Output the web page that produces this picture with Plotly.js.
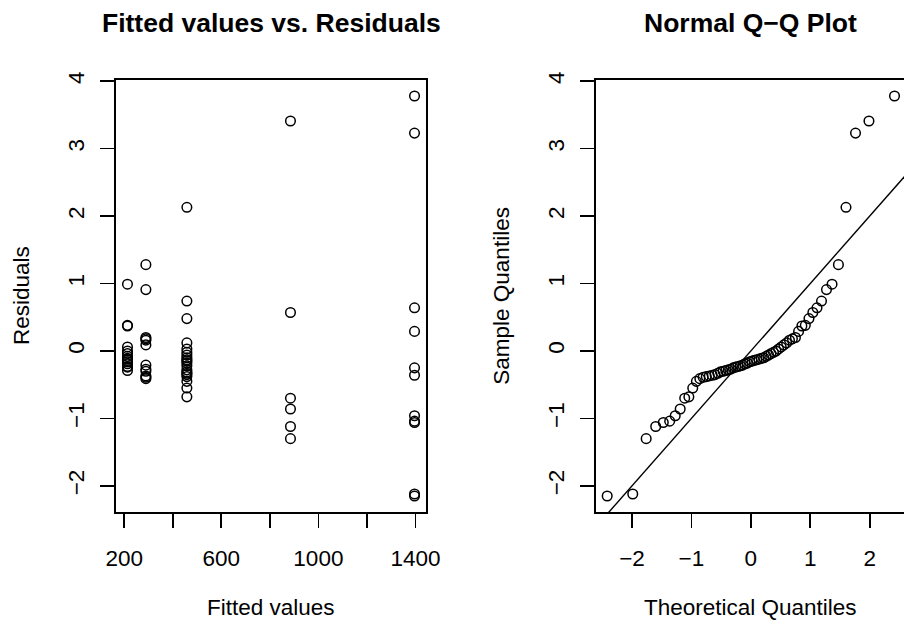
<!DOCTYPE html>
<html>
<head>
<meta charset="utf-8">
<script src="https://cdn.plot.ly/plotly-3.0.1.min.js"></script>
<style>
  html, body { margin: 0; padding: 0; overflow: hidden; background: #ffffff; }
  #plot { width: 912px; height: 620px; }
</style>
</head>
<body>
<div id="plot"></div>
<script>
// ---------------- data ----------------
const groupFitted = [213.6, 289.4, 458.3, 885, 1396];
const resid213  = [0.99, 0.38, 0.37, 0.06, 0.00, -0.04, -0.08, -0.11, -0.12, -0.14, -0.16, -0.19, -0.23, -0.24, -0.29];
const resid289  = [1.28, 0.91, 0.20, 0.18, 0.16, 0.09, -0.21, -0.27, -0.30, -0.37, -0.39, -0.41];
const resid458  = [2.13, 0.74, 0.48, 0.12, 0.03, -0.02, -0.06, -0.10, -0.13, -0.15, -0.18, -0.22, -0.28, -0.31, -0.33, -0.35, -0.38, -0.45, -0.55, -0.68];
const resid885  = [3.41, 0.57, -0.70, -0.86, -1.12, -1.30];
const resid1396 = [3.78, 3.23, 0.64, 0.29, -0.25, -0.36, -0.96, -1.04, -1.06, -2.12, -2.15];
const residGroups = [resid213, resid289, resid458, resid885, resid1396];

// reference line drawn on the Q-Q panel (y = intercept + slope * x)
const refLineIntercept = 0;
const refLineSlope = 1;

// ticks
const fitTickVals = [200, 400, 600, 800, 1000, 1200, 1400];
const fitTickText = ["200", "", "600", "", "1000", "", "1400"];
const qqTickVals = [-2, -1, 0, 1, 2];
const qqTickText = ["\u22122", "\u22121", "0", "1", "2"];
const resTickVals = [-2, -1, 0, 1, 2, 3, 4];
const resTickText = ["\u22122", "\u22121", "0", "1", "2", "3", "4"];

const titleLeft = "Fitted values vs. Residuals";
const titleRight = "Normal Q\u2212Q Plot";
const xTitleLeft = "Fitted values";
const yTitleLeft = "Residuals";
const xTitleRight = "Theoretical Quantiles";
const yTitleRight = "Sample Quantiles";

// ---------------- derived ----------------
const fittedX = [], residY = [];
residGroups.forEach((g, k) => g.forEach(v => { fittedX.push(groupFitted[k]); residY.push(v); }));

// inverse standard normal CDF (Acklam)
function qnorm(p) {
  const a = [-3.969683028665376e+01, 2.209460984245205e+02, -2.759285104469687e+02, 1.383577518672690e+02, -3.066479806614716e+01, 2.506628277459239e+00];
  const b = [-5.447609879822406e+01, 1.615858368580409e+02, -1.556989798598866e+02, 6.680131188771972e+01, -1.328068155288572e+01];
  const c = [-7.784894002430293e-03, -3.223964580411365e-01, -2.400758277161838e+00, -2.549732539343734e+00, 4.374664141464968e+00, 2.938163982698783e+00];
  const d = [7.784695709041462e-03, 3.224671290700398e-01, 2.445134137142996e+00, 3.754408661907416e+00];
  const pl = 0.02425, ph = 1 - pl;
  let q, r;
  if (p < pl) { q = Math.sqrt(-2 * Math.log(p));
    return (((((c[0]*q+c[1])*q+c[2])*q+c[3])*q+c[4])*q+c[5]) / ((((d[0]*q+d[1])*q+d[2])*q+d[3])*q+1); }
  if (p <= ph) { q = p - 0.5; r = q*q;
    return (((((a[0]*r+a[1])*r+a[2])*r+a[3])*r+a[4])*r+a[5])*q / (((((b[0]*r+b[1])*r+b[2])*r+b[3])*r+b[4])*r+1); }
  q = Math.sqrt(-2 * Math.log(1 - p));
  return -(((((c[0]*q+c[1])*q+c[2])*q+c[3])*q+c[4])*q+c[5]) / ((((d[0]*q+d[1])*q+d[2])*q+d[3])*q+1);
}
const n = residY.length;
const sampleQ = residY.slice().sort((u, v) => u - v);
const aP = n <= 10 ? 3 / 8 : 0.5;
const theoQ = sampleQ.map((_, i) => qnorm((i + 1 - aP) / (n + 1 - 2 * aP)));

function rRange(arr) { // R default: data range extended by 4%
  const lo = Math.min(...arr), hi = Math.max(...arr), e = 0.04 * (hi - lo);
  return [lo - e, hi + e];
}
const xRangeL = rRange(fittedX);
const yRange = rRange(residY);
const xRangeR = rRange(theoQ);
const lineX = xRangeR.slice();
const lineY = lineX.map(x => refLineIntercept + refLineSlope * x);

// ---------------- geometry (pixels on a 912 x 620 canvas) ----------------
const W = 912, H = 620;
const px = v => v / W, py = v => 1 - v / H;
const FONT = "Liberation Sans, Arial, Helvetica, sans-serif";
const FS = 22.5, TFS = 26.5, LW = 1.7;

const marker = { symbol: "circle-open", size: 9.6, color: "#000000", line: { width: 1.5, color: "#000000" } };

const traces = [
  { type: "scatter", mode: "markers", x: fittedX, y: residY, xaxis: "x", yaxis: "y", marker: marker, hoverinfo: "x+y" },
  { type: "scatter", mode: "lines", x: lineX, y: lineY, xaxis: "x2", yaxis: "y2", line: { color: "#000000", width: 1.4 }, hoverinfo: "skip" },
  { type: "scatter", mode: "markers", x: theoQ, y: sampleQ, xaxis: "x2", yaxis: "y2", marker: marker, hoverinfo: "x+y" }
];

const axisCommon = {
  showgrid: false, zeroline: false, showline: true, mirror: true,
  linecolor: "#000000", linewidth: LW,
  ticks: "outside", ticklen: 14, tickwidth: LW, tickcolor: "#000000",
  tickfont: { family: FONT, size: FS, color: "#000000" },
  tickmode: "array", fixedrange: true
};

const yDomain = [py(512), py(80)];
const XSTAND = 11, YSTAND = 7;

const layout = {
  width: W, height: H,
  margin: { l: 0, r: 0, t: 0, b: 0, pad: 0 },
  paper_bgcolor: "#ffffff", plot_bgcolor: "#ffffff",
  showlegend: false,
  font: { family: FONT, size: FS, color: "#000000" },
  xaxis: Object.assign({}, axisCommon, { domain: [px(116), px(426)], range: xRangeL, tickvals: fitTickVals, ticktext: fitTickText, anchor: "y", ticklabelstandoff: XSTAND }),
  yaxis: Object.assign({}, axisCommon, { domain: yDomain, range: yRange, tickvals: resTickVals, ticktext: resTickText, anchor: "x", tickangle: -90, ticklabelstandoff: YSTAND }),
  xaxis2: Object.assign({}, axisCommon, { domain: [px(595.7), px(906)], range: xRangeR, tickvals: qqTickVals, ticktext: qqTickText, anchor: "y2", ticklabelstandoff: XSTAND }),
  yaxis2: Object.assign({}, axisCommon, { domain: yDomain, range: yRange, tickvals: resTickVals, ticktext: resTickText, anchor: "x2", tickangle: -90, ticklabelstandoff: YSTAND }),
  annotations: [
    { text: titleLeft, x: px(271), y: py(23.5), xref: "paper", yref: "paper", xanchor: "center", yanchor: "middle", showarrow: false, font: { family: FONT, size: TFS, weight: "bold", color: "#000000" } },
    { text: titleRight, x: px(750.85), y: py(23.5), xref: "paper", yref: "paper", xanchor: "center", yanchor: "middle", showarrow: false, font: { family: FONT, size: TFS, weight: "bold", color: "#000000" } },
    { text: xTitleLeft, x: px(271), y: py(607), xref: "paper", yref: "paper", xanchor: "center", yanchor: "middle", showarrow: false, font: { family: FONT, size: FS, color: "#000000" } },
    { text: xTitleRight, x: px(750.85), y: py(607), xref: "paper", yref: "paper", xanchor: "center", yanchor: "middle", showarrow: false, font: { family: FONT, size: FS, color: "#000000" } },
    { text: yTitleLeft, x: px(21), y: py(296), xref: "paper", yref: "paper", xanchor: "center", yanchor: "middle", textangle: -90, showarrow: false, font: { family: FONT, size: FS, color: "#000000" } },
    { text: yTitleRight, x: px(500.7), y: py(296), xref: "paper", yref: "paper", xanchor: "center", yanchor: "middle", textangle: -90, showarrow: false, font: { family: FONT, size: FS, color: "#000000" } }
  ]
};

Plotly.newPlot("plot", traces, layout, { staticPlot: true, displayModeBar: false });
</script>
</body>
</html>
